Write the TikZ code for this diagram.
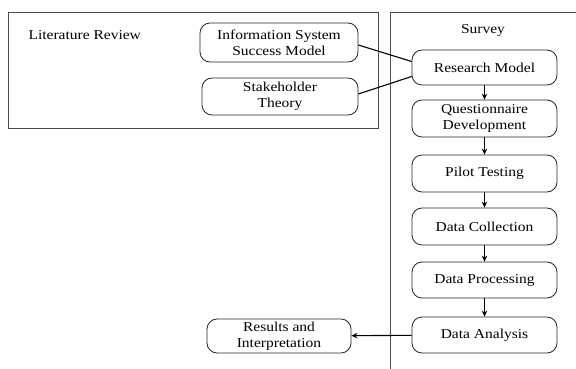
\documentclass[tikz,border=0pt]{standalone}
\usepackage{fontspec}
\setmainfont{Liberation Serif}[FakeStretch=1.14]
\usetikzlibrary{arrows.meta}
\begin{document}
\begin{tikzpicture}[x=1pt,y=-1pt,
  font=\fontsize{13.6}{16}\selectfont,
  frame/.style={draw=black!70, line width=0.9pt},
  stepbox/.style={draw=black!85, line width=0.8pt, rounded corners=10pt,
    align=center, inner sep=0pt, minimum width=145pt, minimum height=36pt},
  link/.style={draw=black, line width=1.1pt},
  flow/.style={draw=black, line width=1.3pt, -{Stealth[length=6pt,width=5.5pt]}}
]
\useasboundingbox (0,0) rectangle (576,369);
% outer frames
\draw[frame] (8,12) rectangle (378,128);
\draw[frame] (390,369) -- (390,12) -- (576,12);
\node[anchor=west] (litlabel) at (25,35) {Literature Review};
\node (survlabel) at (483,30) {Survey};
% literature boxes
\node[stepbox, minimum width=158pt, minimum height=39pt] (info) at (279,42.5) {Information System\\Success Model};
\node[stepbox, minimum width=156pt, minimum height=37pt] (stake) at (280,96.5) {Stakeholder\\Theory};
% survey steps
\node[stepbox, minimum height=35pt] (rm) at (484.5,67.5) {Research Model};
\node[stepbox, minimum height=37pt] (qd) at (484.5,118.5) {Questionnaire\\Development};
\node[stepbox, minimum height=37pt] (pt) at (484.5,173.5) {Pilot Testing};
\node[stepbox, minimum height=37pt] (dc) at (484.5,226.5) {Data Collection};
\node[stepbox, minimum height=36pt] (dp) at (484.5,280) {Data Processing};
\node[stepbox, minimum height=36pt] (da) at (484.5,335) {Data Analysis};
\node[stepbox, minimum width=144pt, minimum height=34pt] (res) at (279,336) {Results and\\Interpretation};
% connectors (yshift is in page direction: positive moves up)
\draw[link] ([yshift=-2.5pt]info.east) -- ([yshift=6pt]rm.west);
\draw[link] ([yshift=2.5pt]stake.east) -- ([yshift=-9pt]rm.west);
\draw[flow] (rm) -- (qd);
\draw[flow] (qd) -- (pt);
\draw[flow] (pt) -- (dc);
\draw[flow] (dc) -- (dp);
\draw[flow] (dp) -- (da);
\draw[flow, line width=1.1pt] (da) -- (res);
\end{tikzpicture}
\end{document}
